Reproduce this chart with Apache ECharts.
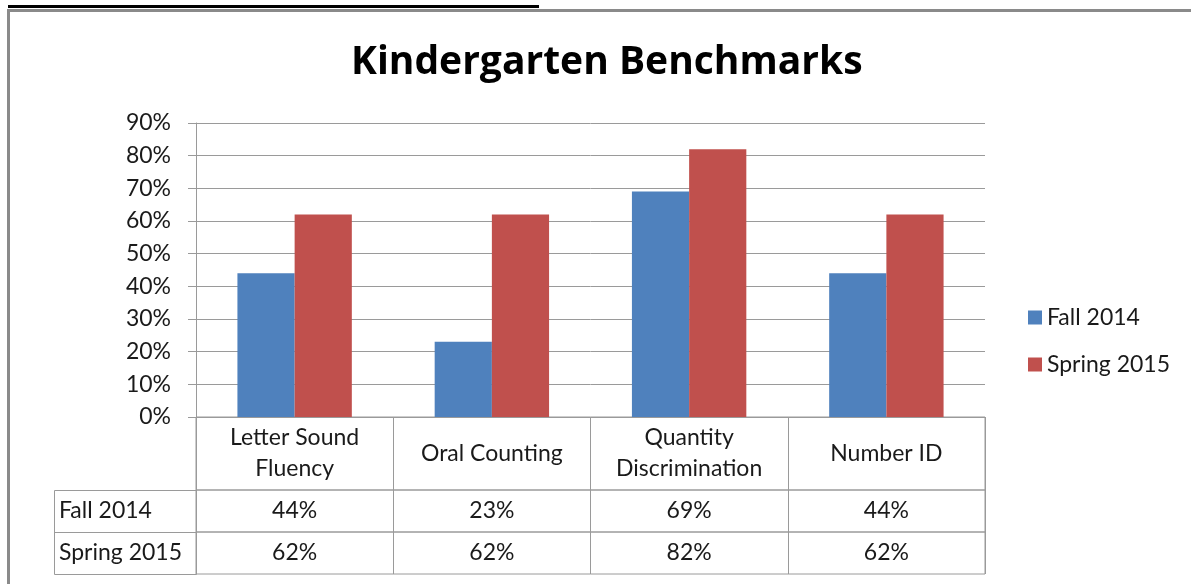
<!DOCTYPE html>
<html>
<head>
<meta charset="utf-8">
<script src="https://cdn.jsdelivr.net/npm/echarts@6/dist/echarts.min.js"></script>
<style>
html,body{margin:0;padding:0;background:#fff;}
#chart{width:1191px;height:584px;}
</style>
</head>
<body>
<div id="chart"></div>
<script>
// ---- data ----
const titleText = 'Kindergarten Benchmarks';
const categories = ['Letter Sound\nFluency', 'Oral Counting', 'Quantity\nDiscrimination', 'Number ID'];
const seriesNames = ['Fall 2014', 'Spring 2015'];
const fall2014 = [44, 23, 69, 44];
const spring2015 = [62, 62, 82, 62];
const yTicks = [0, 90, 10]; // min, max, interval (percent)

// ---- layout / style ----
const FONT = 'Lato';
const TITLE_FONT = 'Open Sans';
const TXT = '#1a1a1a';
const LINE = '#9a9a9a';
const colors = ['#4F81BD', '#C0504D'];
const plotLeft = 196, plotRight = 1191 - 985;
const plotTop = 123, plotBottom = 417;
const headH = 73, rowH = 42;
const fs = 23;

const pct = v => v + '%';
const rows = [fall2014.map(pct), spring2015.map(pct)];

const chart = echarts.init(document.getElementById('chart'), null, {renderer: 'canvas'});

const grids = [
  {left: plotLeft, right: plotRight, top: plotTop, height: plotBottom - plotTop, show: false},
  {left: plotLeft, right: plotRight, top: plotBottom, height: headH, show: true, borderColor: LINE, borderWidth: 1},
  {left: plotLeft, right: plotRight, top: plotBottom + headH, height: rowH, show: true, borderColor: LINE, borderWidth: 1},
  {left: plotLeft, right: plotRight, top: plotBottom + headH + rowH, height: rowH, show: true, borderColor: LINE, borderWidth: 1}
];

function tableXAxis(gridIndex, data, margin, lh) {
  return {
    type: 'category', gridIndex: gridIndex, data: data, position: 'bottom',
    axisLine: {show: false}, axisTick: {show: false},
    splitLine: {show: true, lineStyle: {color: LINE, width: 1}},
    axisLabel: {inside: true, margin: margin, verticalAlign: 'middle', align: 'center',
      fontFamily: FONT, fontSize: fs, color: TXT, lineHeight: lh, interval: 0}
  };
}
function rowYAxis(gridIndex, name) {
  return {
    type: 'category', gridIndex: gridIndex, data: [name],
    axisLine: {show: false}, axisTick: {show: false}, splitLine: {show: false},
    axisLabel: {margin: plotLeft - 59, align: 'left', verticalAlign: 'middle',
      fontFamily: FONT, fontSize: fs, color: TXT}
  };
}

const option = {
  backgroundColor: '#fff',
  animation: false,
  color: colors,
  title: {
    text: titleText, left: 346, top: 38,
    textStyle: {fontFamily: TITLE_FONT, fontWeight: 'bold', fontSize: 39, color: '#000'}
  },
  legend: {
    orient: 'vertical', left: 1023, top: 301,
    itemWidth: 14, itemHeight: 14, itemGap: 24, icon: 'rect',
    textStyle: {fontFamily: FONT, fontSize: fs, color: TXT, padding: [0, 0, 0, 0]},
    data: seriesNames
  },
  grid: grids,
  xAxis: [
    {type: 'category', gridIndex: 0, data: categories,
      axisLine: {show: true, lineStyle: {color: LINE, width: 1}},
      axisTick: {show: false}, axisLabel: {show: false}, splitLine: {show: false}},
    tableXAxis(1, categories, headH / 2, 31),
    tableXAxis(2, rows[0], rowH / 2, 26),
    tableXAxis(3, rows[1], rowH / 2, 26)
  ],
  yAxis: [
    {type: 'value', gridIndex: 0, min: yTicks[0], max: yTicks[1], interval: yTicks[2],
      axisLine: {show: true, lineStyle: {color: LINE, width: 1}},
      axisTick: {show: true, length: 8, lineStyle: {color: LINE}},
      splitLine: {show: true, lineStyle: {color: LINE, width: 1}},
      axisLabel: {formatter: '{value}%', margin: 25, fontFamily: FONT, fontSize: fs, color: TXT}},
    {type: 'value', gridIndex: 1, show: false},
    rowYAxis(2, seriesNames[0]),
    rowYAxis(3, seriesNames[1])
  ],
  series: [
    {name: seriesNames[0], type: 'bar', xAxisIndex: 0, yAxisIndex: 0, data: fall2014,
      barGap: '0%', barCategoryGap: '42%', itemStyle: {color: colors[0]}},
    {name: seriesNames[1], type: 'bar', xAxisIndex: 0, yAxisIndex: 0, data: spring2015,
      barGap: '0%', barCategoryGap: '42%', itemStyle: {color: colors[1]}}
  ],
  graphic: [
    {type: 'rect', shape: {x: 8, y: 5, width: 531, height: 3}, style: {fill: '#000'}, silent: true},
    {type: 'rect', shape: {x: 8.5, y: 10.5, width: 1300, height: 700},
      style: {fill: null, stroke: '#8a8a8a', lineWidth: 3}, silent: true},
    {type: 'rect', shape: {x: 54.5, y: plotBottom + headH + 0.5, width: plotLeft - 54, height: rowH * 2},
      style: {fill: null, stroke: LINE, lineWidth: 1}, silent: true},
    {type: 'line', shape: {x1: 54.5, y1: plotBottom + headH + rowH + 0.5, x2: plotLeft, y2: plotBottom + headH + rowH + 0.5},
      style: {stroke: LINE, lineWidth: 1}, silent: true}
  ]
};
chart.setOption(option);
</script>
</body>
</html>
